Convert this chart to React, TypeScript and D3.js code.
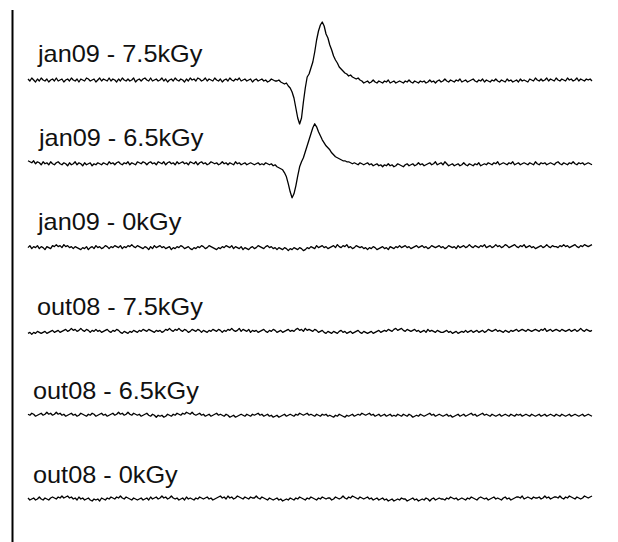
import React from 'react';
import * as d3 from 'd3';

// EPR spectra, signal in arbitrary units, one point per field step (300 steps)
const rowLabels = [
  'jan09 - 7.5kGy',
  'jan09 - 6.5kGy',
  'jan09 - 0kGy',
  'out08 - 7.5kGy',
  'out08 - 6.5kGy',
  'out08 - 0kGy',
];

const jan09_75 = [
  1,-1,2,0,-2,1,-1,2,0,-1, 1,-2,0,1,-1,2,-1,0,1,-2,
  0,1,-1,2,0,-1,1,-2,1,0, -1,2,1,-1,0,1,-2,0,2,-1,
  1,0,-1,2,-1,1,0,-2,1,-1, 2,0,-1,1,-1,0,2,-2,0,1,
  -1,1,2,0,-1,2,-1,0,1,-1, 0,2,-1,1,-2,0,1,-1,2,0,
  -1,1,0,-2,1,-1,2,0,1,-1, 2,1,-1,0,2,-1,1,0,-1,2,
  0,-1,1,-2,0,1,-1,2,0,-1, 1,0,2,-1,0,1,-1,0,1,-2,
  0,1,-1,0,1,-1,0,-2,-1,1, 0,-1,
  // resonance
  -1,0,-2,-3,-4,-3,-6,-8,-12,-18, -28,-38,-44,-38,-22,-8,3,6,12,18,
  28,40,49,55,58,54,46,42,35,30, 24,20,17,13,11,9,7,6,4,5, 3,2,1,2,0,
  -1,-3,-2,-1,-3,-2,0,-2,-3,-1, -2,-3,-1,-2,0,-3,-2,-1,-3,-2,
  -1,-2,-3,-1,-2,0,-2,-3,-1,-2, -3,-1,-2,-1,-3,-2,0,-2,-1,-3,
  -1,0,-2,-1,1,-1,-2,0,-1,-2, 0,-1,1,-2,-1,0,-2,-1,0,1,
  -1,-2,0,-1,1,-2,0,-1,-2,0, -1,1,-1,-2,0,-1,-2,1,-1,0,
  -2,-1,0,-2,1,-1,0,-1,-2,1, 0,-1,2,0,-1,1,-1,0,2,-1,
  1,0,-1,2,0,-1,1,0,-1,2, 0,1,-1,0,2,-1,1,0,-1,1,
  0,1,-1,
];

const jan09_65 = [
  3,2,1,3,0,2,1,-1,2,0, 1,-1,2,0,-1,1,2,0,-1,1,
  0,-2,1,-1,0,2,-1,1,0,-2, 1,-1,0,1,-2,0,-1,1,0,-1,
  1,0,-1,2,0,1,-1,1,2,0, -1,1,0,2,-1,1,0,-1,2,1,
  0,2,1,-1,1,2,0,1,-1,2, 1,0,2,-1,1,2,0,1,-1,2,
  0,1,2,0,1,-1,2,1,0,2, -1,1,2,0,1,-1,0,2,1,0,
  1,-1,0,2,0,1,-1,1,0,-1, 2,0,1,-1,0,1,-1,0,1,0,
  -1,0,1,-1,0,-1,1,0,
  // resonance
  -1,0,-2,-1,-3,-4,-5,-6,-9,-13, -20,-28,-34,-30,-22,-12,-3,2,6,12,
  18,24,30,36,40,37,32,28,24,21, 18,16,14,11,9,7,6,5,4,3, 3,2,2,1,0,
  1,0,-1,1,0,-1,0,1,-1,0, -2,-1,0,-2,-1,-3,-1,-2,0,-2,
  -1,-3,-2,0,-1,-2,-3,-1,0,-2, -1,0,-2,-1,1,-1,0,-2,-1,0,
  1,-1,0,2,-1,0,1,-1,2,0, -2,-1,0,-2,-1,0,-2,-1,1,-1,
  -2,0,-1,-2,0,-1,1,-2,-1,0, -1,1,0,-1,1,0,2,-1,0,1,
  0,-1,1,0,2,-1,0,1,-1,0, 1,0,-1,1,0,-1,2,0,-1,1,
  0,1,-1,0,1,0,-1,1,2,0, -1,1,0,-1,1,0,2,0,-1,1,
  0,1,-1,0,1,0,-1,
];

const jan09_0 = [
  0,2,-1,1,0,2,-1,1,0,-2, 1,0,-1,2,1,3,1,2,0,3,
  1,2,0,1,-1,1,0,-1,-2,0, -1,1,-2,0,1,-1,2,0,1,-1,
  0,2,1,-1,1,0,2,1,0,2, -1,1,0,2,1,3,1,0,2,1,
  0,-1,1,0,-2,1,-1,2,0,1, 2,0,1,-1,0,1,-2,0,-1,1,
  0,2,1,-1,0,1,-1,-2,0,-1, 1,0,2,1,-1,0,2,1,0,-1,
  -2,0,-1,1,0,2,1,0,2,-1, 1,0,-1,1,-2,0,-1,-2,0,1,
  -1,0,2,1,0,-1,1,2,0,1, -1,0,-2,0,-1,-2,0,-1,-3,-1,
  -2,0,-1,-2,0,-1,-3,-2,0,-1, 1,0,-1,2,0,1,2,0,1,-1,
  0,1,2,0,3,1,0,2,1,3, 0,1,-1,0,2,1,0,1,-1,0,
  -2,0,-1,1,0,-2,-1,0,1,-1, 0,-2,1,0,-1,1,0,2,0,1,
  2,0,1,-1,0,1,2,0,1,2, 0,1,-1,0,2,1,0,1,2,0,
  1,-1,0,2,1,0,1,-1,2,0, 1,2,0,1,3,1,0,2,1,0,
  2,1,3,0,1,2,0,1,3,1, 2,0,1,3,2,0,1,2,3,1,
  0,2,1,3,0,1,2,0,1,-1, 0,1,2,0,1,3,1,0,2,1,
  1,0,2,1,3,1,2,0,1,2, 3,1,0,2,1,3,2,1,2,3,
];

const out08_75 = [
  -2,-1,-3,-1,-2,0,-1,-2,-1,0, -2,-1,0,1,-1,0,1,-1,0,1,
  2,0,1,3,1,2,0,1,3,1, 0,2,1,-1,1,0,2,0,1,-1,
  0,1,2,0,-1,1,0,2,1,-1, -2,0,-1,-2,0,-1,1,0,-1,1,
  0,2,1,0,2,1,0,-1,1,0, 1,-1,0,2,1,3,1,0,2,1,
  3,1,0,2,1,-1,0,2,1,0, 2,1,-1,1,0,-1,1,0,2,1,
  0,2,1,-1,1,0,2,1,3,1, 0,1,3,0,2,1,0,2,-1,1,
  0,1,-1,0,1,2,0,-1,1,0, 2,1,-1,0,1,-1,0,1,2,0,
  1,0,2,3,1,2,0,3,1,2, 1,0,2,1,-1,0,1,-1,-2,0,
  -1,-2,0,-1,-2,0,1,-1,0,-2, -1,0,-2,-1,0,1,-1,-2,0,-1,
  -2,-1,0,-2,-1,0,1,-1,0,1, 0,2,1,0,2,3,1,2,3,1,
  0,2,1,0,1,2,0,1,-1,0, 1,-1,2,0,1,0,-1,1,0,-1,
  -1,0,1,-1,0,-2,-1,0,-2,-1, 0,-1,1,-1,0,1,-1,0,1,-1,
  0,1,-1,0,2,1,0,1,2,0, 1,0,-1,1,0,-1,1,0,1,2,
  0,1,2,1,0,2,1,0,1,2, 1,0,2,1,3,0,1,2,0,1,
  2,1,0,2,1,0,1,2,0,1, 2,0,1,3,1,0,2,1,0,1,
];

const out08_65 = [
  1,0,2,1,-1,0,1,2,0,1, 3,1,2,0,1,3,1,2,0,1,
  -1,0,1,2,0,1,-1,0,2,1, 0,-1,1,0,2,1,-1,0,1,2,
  0,1,-1,0,1,2,0,1,3,1, 2,0,1,3,1,0,2,1,0,1,
  -1,0,1,2,0,-1,1,0,-2,0, -1,0,-2,-1,1,0,-1,1,0,2,
  1,0,2,1,3,2,1,3,1,0, 1,2,0,1,-1,0,1,-1,0,1,
  2,0,1,0,-1,1,0,-2,-1,0, -2,-1,0,1,0,-1,1,0,-1,1,
  0,1,2,0,1,-1,0,1,-1,0, -2,-1,0,-2,-1,0,1,-1,0,1,
  0,-1,1,0,2,1,0,1,2,0, 1,0,-1,1,0,-1,1,0,1,-1,
  0,-1,-2,0,-1,1,0,-1,-2,0, -1,0,1,-1,0,1,0,2,1,0,
  1,2,0,1,-1,0,1,-1,0,1, -1,0,1,-1,0,-1,1,0,-1,1,
  0,-1,1,0,-2,-1,0,-1,1,0, -1,0,1,2,0,1,-1,0,1,0,
  -1,0,1,-1,0,-2,-1,0,1,-1, 0,1,-1,0,1,2,0,1,-1,0,
  1,2,0,1,0,-1,1,0,-1,0, 1,-1,0,1,0,-1,1,0,-1,1,
  0,1,-1,0,1,0,-1,1,0,-1, 0,1,-1,0,1,-1,0,1,0,-1,
  1,0,-1,1,0,-1,0,1,-1,0, 1,0,-1,0,1,-1,0,1,0,-1,
];

const out08_0 = [
  1,-1,0,1,-1,0,2,0,-1,1, 0,-1,1,2,1,0,2,1,3,1,
  2,3,1,2,0,1,-1,2,0,1, -1,0,1,-1,-2,0,-1,0,-2,1,
  0,-1,1,0,2,1,0,2,1,3, 1,0,2,1,0,-1,1,0,-1,0,
  1,-1,0,1,-1,2,0,1,2,0, 1,3,1,2,0,1,3,1,0,1,
  -1,0,1,-1,2,0,1,0,-1,1, 0,2,1,0,1,2,0,1,-1,0,
  1,2,3,1,2,0,3,1,2,0, 1,3,2,1,0,2,1,0,2,1,
  1,3,1,0,2,1,0,-1,1,0, -1,0,1,-1,0,-2,-1,0,-1,1,
  0,-1,1,0,2,1,0,-1,1,0, 2,1,0,-1,1,0,2,1,0,1,
  1,-1,0,2,1,0,1,3,1,0, 2,1,3,2,1,0,2,1,0,1,
  2,0,1,-1,0,1,-1,0,1,-1, 0,-2,-1,0,-2,-1,0,-1,1,0,
  0,-2,-1,0,1,-1,0,-2,-1,0, -1,1,0,-2,0,1,-1,0,1,0,
  0,-1,1,0,2,1,0,1,-1,0, 1,0,-1,1,0,2,1,0,-1,1,
  2,1,0,1,-1,0,1,2,0,1, 0,-1,1,2,0,1,-1,0,1,2,
  2,1,3,0,1,2,1,0,2,1, 1,2,0,1,3,1,2,0,1,2,
  2,1,3,1,0,2,1,3,2,1, 0,2,1,0,1,3,2,1,2,3,
];

const spectra = [jan09_75, jan09_65, jan09_0, out08_75, out08_65, out08_0];

const W = 618, H = 542;
const labelDx = [38, 39, 38, 37, 33, 33];

export default function App() {
  const rowY = d3.scalePoint<string>().domain(rowLabels).range([80, 499]);
  const labelY = d3.scalePoint<string>().domain(rowLabels).range([62, 483]);

  return (
    <svg width={W} height={H} style={{ position: 'absolute', left: 0, top: 0, background: '#fff' }}>
      <line x1={12.5} x2={12.5} y1={10} y2={H} stroke="#000" strokeWidth={2} />
      {rowLabels.map((lab, i) => {
        const vals = spectra[i];
        const x = d3.scaleLinear().domain([0, vals.length - 1]).range([28, 592]);
        const base = rowY(lab)!;
        const y = d3.scaleLinear().domain([-60, 60]).range([base + 60, base - 60]);
        const line = d3.line<number>().x((_, j) => x(j)).y(v => y(v));
        return (
          <g key={lab}>
            <text
              transform={`translate(${labelDx[i]},${labelY(lab)}) scale(1.1,1)`}
              fontFamily="'Liberation Sans', Arial, sans-serif"
              fontSize={23}
              fill="#111"
            >
              {lab}
            </text>
            <path d={line(vals) || ''} fill="none" stroke="#000" strokeWidth={1.3} strokeLinejoin="round" />
          </g>
        );
      })}
    </svg>
  );
}
